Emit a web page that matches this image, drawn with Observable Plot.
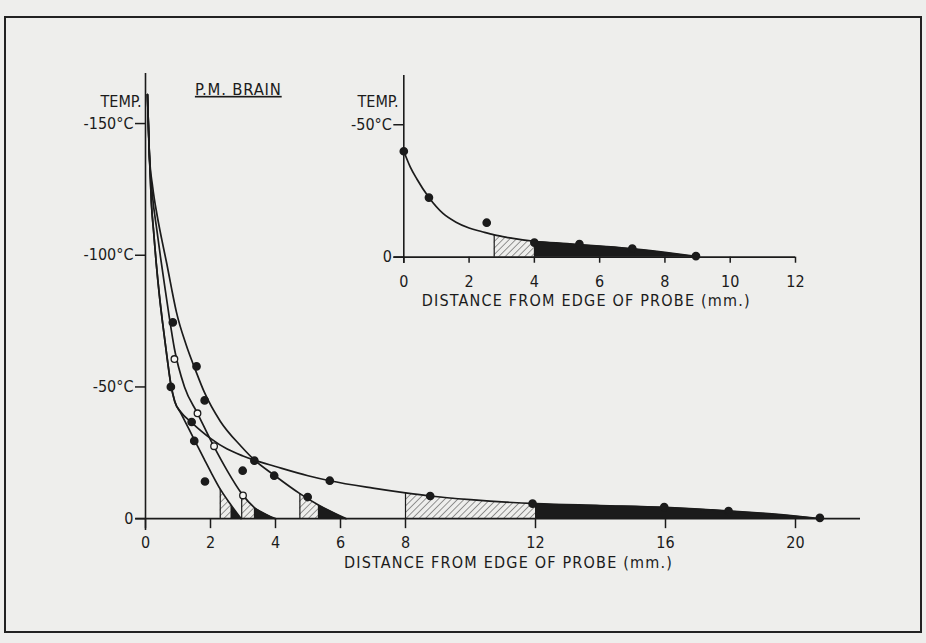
<!DOCTYPE html>
<html><head><meta charset="utf-8">
<script src="https://cdn.jsdelivr.net/npm/d3@7"></script>
<script src="https://cdn.jsdelivr.net/npm/@observablehq/plot@0.6"></script>
<style>
html,body{margin:0;padding:0;background:#eeeeec;}
#wrap{position:relative;width:926px;height:643px;overflow:hidden;background:#eeeeec;}
#wrap svg{position:absolute;left:0;top:0;}
#border{position:absolute;left:4px;top:16px;width:914px;height:613px;border:2px solid #222;}
</style></head><body><div id="wrap"><div id="border"></div></div>
<script>
// ---------- main chart data (distance mm, degrees below 0 °C) ----------
const xTicks = [0, 2, 4, 6, 8, 12, 16, 20];
const yTicks = [0, 50, 100, 150];
const yTickLabels = ["0", "-50°C", "-100°C", "-150°C"];
const xTitle = "DISTANCE FROM EDGE OF PROBE (mm.)";
const yTitle = "TEMP.";
const chartTitle = "P.M. BRAIN";

const curveA = [[0.06,161],[0.12,138],[0.18,120],[0.25,109],[0.33,97],[0.43,84.5],[0.53,74],[0.66,61.5],[0.78,51],[0.9,44.5],[1.09,40],[1.5,30],[1.81,22.5],[2.02,17.5],[2.3,11.2],[2.63,5.2],[2.94,0]];
const curveB = [[0.06,161],[0.12,138],[0.22,122],[0.35,109.5],[0.46,99.5],[0.6,87.5],[0.72,77.5],[0.89,64.5],[1.2,50],[1.6,40],[2.1,27.5],[2.5,18.5],[2.96,9.5],[3.35,4.2],[4.0,0]];
const curveC = [[0.06,161],[0.12,138],[0.22,126],[0.36,115],[0.5,106],[0.66,96.5],[0.8,87.5],[0.95,78.5],[1.25,66],[1.55,56],[1.81,48],[2.3,37],[2.94,27.5],[3.35,22.3],[3.96,16.5],[4.75,9.5],[5.32,5.2],[6.17,0]];
const curveD = [[0.06,161],[0.12,138],[0.18,120],[0.25,109],[0.33,97],[0.43,84.5],[0.53,74],[0.66,61.5],[0.78,51],[0.9,44.5],[1.1,40.3],[1.42,36.5],[2.0,30.5],[2.5,26.5],[3.0,23.8],[3.35,22.2],[4,19.8],[5,16.3],[5.67,14.4],[7,11.6],[8,9.8],[8.76,8.6],[10,7.2],[12,5.7],[14,5.0],[16,4.3],[18,2.9],[20,1.0],[20.75,0]];

const filledPts = [[0.84,74.5],[0.78,50],[1.57,57.8],[1.82,44.9],[1.42,36.7],[1.5,29.5],[1.83,14.1],[3.35,22],[2.99,18.2],[3.96,16.3],[4.99,8.2],[5.67,14.4],[8.76,8.6],[11.91,5.7],[15.96,4.4],[17.94,2.9],[20.75,0.3]];
const openPts = [[0.89,60.6],[1.6,40],[2.11,27.5],[3.0,8.8]];

const hatchRanges = [[2.3,2.63],[2.96,3.35],[4.75,5.32],[8,12]];
const blackRanges = [[2.63,2.94],[3.35,4.0],[5.32,6.17],[12,20.75]];

// ---------- inset data ----------
const insetXTicks = [0, 2, 4, 6, 8, 10, 12];
const insetYTicks = [0, 50];
const insetYTickLabels = ["0", "-50°C"];
const insetCurve = [[0,40],[0.2,34],[0.4,29.5],[0.77,22.5],[1.2,16.5],[1.6,13.2],[2,11],[2.4,9.6],[2.77,8.4],[3.2,7.4],[4,6],[5,5.1],[6,4.2],[7,3.2],[8,1.8],[9,0.2]];
const insetPts = [[0,40],[0.77,22.5],[2.54,13],[4,5.5],[5.38,4.9],[7,3.2],[8.95,0.4]];
const insetHatch = [2.77, 4];
const insetBlack = [4, 9];

// ---------- helpers ----------
const INK = "#1b1b1b";
const FONT = '"DejaVu Sans Condensed", "DejaVu Sans", sans-serif';
const pts = a => a.map(([x, t]) => ({x, t}));
const seg = (c, lo, hi) => c.filter(d => d.x >= lo - 1e-9 && d.x <= hi + 1e-9);
const valAt = (c, x) => c.find(d => Math.abs(d.x - x) < 1e-9).t;

const curves = [curveA, curveB, curveC, curveD].map(pts);
const fmt = (ticks, labels) => d => labels[ticks.indexOf(d)];

const areaMarks = [];
curves.forEach((c, i) => {
  const [h0, h1] = hatchRanges[i];
  const [b0, b1] = blackRanges[i];
  areaMarks.push(Plot.areaY(seg(c, h0, h1), {x: "x", y: "t", fill: "url(#hatch)", curve: "monotone-x"}));
  areaMarks.push(Plot.areaY(seg(c, b0, b1), {x: "x", y: "t", fill: INK, curve: "monotone-x"}));
  areaMarks.push(Plot.ruleX([h0], {x: d => d, y1: 0, y2: valAt(c, h0), stroke: INK, strokeWidth: 1.2}));
});

const main = Plot.plot({
  width: 926, height: 643,
  marginLeft: 145, marginRight: 66, marginTop: 73, marginBottom: 113,
  x: {domain: [0, 22], label: null},
  y: {domain: [-4.5, 169], label: null},
  style: {fontFamily: FONT, fontSize: "16px", background: "transparent", color: INK, fontStretch: "condensed"},
  marks: [
    ...areaMarks,
    Plot.ruleX([0], {y1: -4.5, y2: 169, stroke: INK, strokeWidth: 1.6}),
    Plot.ruleY([0], {x1: -0.3, x2: 22, stroke: INK, strokeWidth: 1.6}),
    Plot.ruleX(xTicks, {x: d => d, y1: -3.8, y2: 0, stroke: INK, strokeWidth: 1.5}),
    Plot.axisY({ticks: yTicks, tickSize: 10, tickPadding: 2, tickFormat: fmt(yTicks, yTickLabels), fontSize: 16, strokeWidth: 1.5, label: null}),
    Plot.axisX({ticks: xTicks, tickSize: 0, tickPadding: 6, tickFormat: d => String(d), fontSize: 16, label: null}),
    ...curves.map(c => Plot.line(c, {x: "x", y: "t", curve: "monotone-x", stroke: INK, strokeWidth: 1.7})),
    Plot.dot(pts(filledPts), {x: "x", y: "t", r: 3.6, fill: INK, stroke: INK}),
    Plot.dot(pts(openPts), {x: "x", y: "t", r: 3.3, fill: "#f6f6f4", stroke: INK, strokeWidth: 1.3}),
    Plot.text([yTitle], {text: d => d, x: () => -0.12, y: () => 158.4, textAnchor: "end", fontSize: 16}),
    Plot.text([chartTitle], {text: d => d, x: () => 1.52, y: () => 162.9, textAnchor: "start", fontSize: 16.5}),
    Plot.text([xTitle], {text: d => d, x: () => 11.17, y: () => -16.9, fontSize: 16})
  ]
});

const ic = pts(insetCurve);
const inset = Plot.plot({
  width: 926, height: 643,
  marginLeft: 403.3, marginRight: 131, marginTop: 75, marginBottom: 380,
  x: {domain: [0, 12], label: null},
  y: {domain: [-2.4, 68.6], label: null},
  style: {fontFamily: FONT, fontSize: "16px", background: "transparent", color: INK, fontStretch: "condensed"},
  marks: [
    Plot.areaY(seg(ic, insetHatch[0], insetHatch[1]), {x: "x", y: "t", fill: "url(#hatch)", curve: "monotone-x"}),
    Plot.areaY(seg(ic, insetBlack[0], insetBlack[1]), {x: "x", y: "t", fill: INK, curve: "monotone-x"}),
    Plot.ruleX([insetHatch[0]], {x: d => d, y1: 0, y2: valAt(ic, insetHatch[0]), stroke: INK, strokeWidth: 1.2}),
    Plot.ruleX([0], {y1: -2.4, y2: 68.6, stroke: INK, strokeWidth: 1.6}),
    Plot.ruleY([0], {x1: -0.3, x2: 12, stroke: INK, strokeWidth: 1.6}),
    Plot.ruleX(insetXTicks, {x: d => d, y1: -2.3, y2: 0, stroke: INK, strokeWidth: 1.5}),
    Plot.axisY({ticks: insetYTicks, tickSize: 10, tickPadding: 2, tickFormat: fmt(insetYTicks, insetYTickLabels), fontSize: 16, strokeWidth: 1.5, label: null}),
    Plot.axisX({ticks: insetXTicks, tickSize: 0, tickPadding: 12, tickFormat: d => String(d), fontSize: 16, label: null}),
    Plot.line(ic, {x: "x", y: "t", curve: "monotone-x", stroke: INK, strokeWidth: 1.7}),
    Plot.dot(pts(insetPts), {x: "x", y: "t", r: 3.6, fill: INK, stroke: INK}),
    Plot.text([yTitle], {text: d => d, x: () => -0.16, y: () => 58.8, textAnchor: "end", fontSize: 16}),
    Plot.text([xTitle], {text: d => d, x: () => 5.59, y: () => -16.4, fontSize: 16})
  ]
});

// hatch pattern
const NS = "http://www.w3.org/2000/svg";
const defs = document.createElementNS(NS, "defs");
defs.innerHTML = '<pattern id="hatch" patternUnits="userSpaceOnUse" width="4.6" height="4.6" patternTransform="rotate(45)"><line x1="0" y1="0" x2="0" y2="4.6" stroke="#222" stroke-width="0.9"/></pattern>';
main.insertBefore(defs, main.firstChild);

const wrap = document.getElementById("wrap");
wrap.appendChild(main);
wrap.appendChild(inset);

for (const svg of [main, inset]) {
  svg.querySelectorAll("text").forEach(t => {
    if (t.textContent === chartTitle) {
      t.style.textDecoration = "underline";
      t.style.textDecorationThickness = "2px";
      t.setAttribute("letter-spacing", "0.8");
    }
    if (t.textContent === xTitle) t.setAttribute("letter-spacing", "1.2");
  });
}
</script></body></html>
